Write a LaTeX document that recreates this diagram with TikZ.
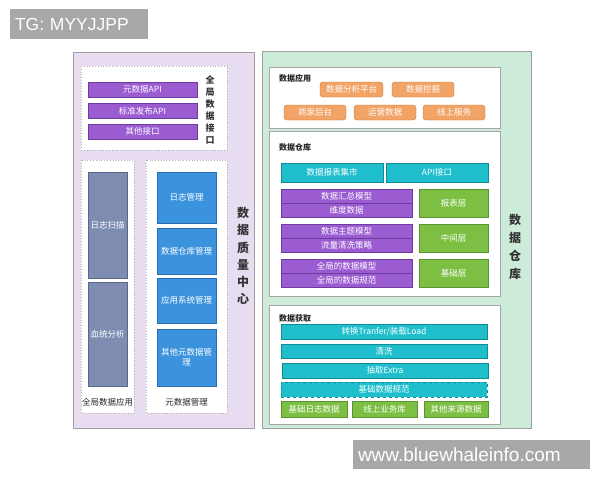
\documentclass[tikz,border=0pt]{standalone}
\usepackage{fontspec}
\setmainfont{Noto Sans CJK SC}
\newfontfamily\wmfont{Liberation Sans}
\usepackage{tikz}
\usepackage{xcolor}
\definecolor{panelpurple}{HTML}{E8DCF0}
\definecolor{panelgreen}{HTML}{CCEBD8}
\definecolor{barpurple}{HTML}{9B5CD2}
\definecolor{barpurpleline}{HTML}{6C3D9E}
\definecolor{bargray}{HTML}{7E8CB2}
\definecolor{bargrayline}{HTML}{5B6787}
\definecolor{barblue}{HTML}{3C93DD}
\definecolor{barblueline}{HTML}{296EAE}
\definecolor{btnorange}{HTML}{F2A366}
\definecolor{btnorangeline}{HTML}{C6793A}
\definecolor{barcyan}{HTML}{1EBECD}
\definecolor{barcyanline}{HTML}{138B97}
\definecolor{boxgreen}{HTML}{7CBF42}
\definecolor{boxgreenline}{HTML}{5A9430}
\definecolor{wmgray}{HTML}{A8A8A8}
\begin{document}
\begin{tikzpicture}[x=1pt,y=-1pt,
	box/.style={draw,inner sep=0pt,text=white,font=\fontsize{8.5}{10}\selectfont},
	pbar/.style={box,fill=barpurple,draw=barpurpleline},
	gbar/.style={box,fill=bargray,draw=bargrayline},
	bbox/.style={box,fill=barblue,draw=barblueline},
	obtn/.style={box,fill=btnorange,draw=btnorangeline,rounded corners=3pt},
	cbar/.style={box,fill=barcyan,draw=barcyanline},
	gbox/.style={box,fill=boxgreen,draw=boxgreenline},
	vtext/.style={align=center,text=black!80,font=\fontsize{9}{12}\selectfont\bfseries},
	bigvtext/.style={align=center,text=black!80,font=\fontsize{12}{17.3}\selectfont\bfseries},
	title/.style={anchor=west,inner sep=0pt,text=black!85,font=\fontsize{8}{10}\selectfont\bfseries},
	caption/.style={inner sep=0pt,text=black!85,font=\fontsize{8.5}{10}\selectfont},
	wm/.style={fill=wmgray,inner sep=0pt,text=white,align=left,font=\wmfont}]
	\useasboundingbox (0,0) rectangle (600,480);
	\fill[white] (0,0) rectangle (600,480);
	\draw[fill=panelpurple,draw=gray!75] (73,52) rectangle (254,428);
	\draw[fill=white,draw=gray!60,dotted,thick] (81,66) rectangle (227,150);
	\draw[fill=white,draw=gray!60,dotted,thick] (81,160) rectangle (134,413);
	\draw[fill=white,draw=gray!60,dotted,thick] (146,160) rectangle (227,413);
	\foreach \y/\t [count=\i] in {89.5/元数据API,111/标准发布API,131.5/其他接口}
		\node[pbar,minimum width=109,minimum height=15] (api\i) at (142.5,\y) {\t};
	\node[vtext] (jiekou) at (210,110) {全\\局\\数\\据\\接\\口};
	\node[gbar,minimum width=39,minimum height=106] (scan) at (107.5,225) {日志扫描};
	\node[gbar,minimum width=39,minimum height=104] (lineage) at (107.5,334) {血统分析};
	\node[bbox,minimum width=59,minimum height=51] (logmgr) at (186.5,197.5) {日志管理};
	\node[bbox,minimum width=59,minimum height=46] (dwmgr) at (186.5,251) {数据仓库管理};
	\node[bbox,minimum width=59,minimum height=45] (appmgr) at (186.5,300.5) {应用系统管理};
	\node[bbox,minimum width=59,minimum height=57,align=center] (metamgr) at (186.5,357.5) {其他元数据管\\理};
	\node[caption] (globalapp) at (107.5,402) {全局数据应用};
	\node[caption] (metadata) at (186.5,402) {元数据管理};
	\node[bigvtext] (quality) at (243,256) {数\\据\\质\\量\\中\\心};
	\draw[fill=panelgreen,draw=gray!75] (262,51) rectangle (531,428);
	\draw[fill=white,draw=gray!70] (269,67) rectangle (500,128);
	\draw[fill=white,draw=gray!70] (269,131) rectangle (500,296);
	\draw[fill=white,draw=gray!70] (269,305) rectangle (500,424);
	\node[title] (usage) at (279,78) {数据应用};
	\node[obtn,minimum width=63,minimum height=15] (analysis) at (351.5,89.5) {数据分析平台};
	\node[obtn,minimum width=62,minimum height=15] (mining) at (423,89.5) {数据挖掘};
	\node[obtn,minimum width=62,minimum height=15] (merchant) at (315,112.5) {商家后台};
	\node[obtn,minimum width=62,minimum height=15] (operation) at (385,112.5) {运营数据};
	\node[obtn,minimum width=62,minimum height=15] (online) at (454,112.5) {线上服务};
	\node[title] (warehouse) at (279,147) {数据仓库};
	\node[cbar,minimum width=102,minimum height=19] (mart) at (332,172.5) {数据报表集市};
	\node[cbar,minimum width=102,minimum height=19] (apiport) at (437,172.5) {API接口};
	\foreach \y/\a/\b/\l [count=\i] in {196/数据汇总模型/维度数据/报表层,231/数据主题模型/流量清洗策略/中间层,266/全局的数据模型/全局的数据规范/基础层}{
		\node[pbar,minimum width=131,minimum height=14] (model\i) at (346.5,\y) {\a};
		\node[pbar,minimum width=131,minimum height=14] (rule\i) at (346.5,\y+14) {\b};
		\node[gbox,minimum width=69,minimum height=28] (layer\i) at (453.5,\y+7) {\l};
	}
	\node[bigvtext,font=\fontsize{12}{18}\selectfont\bfseries] (dw) at (515,247) {数\\据\\仓\\库};
	\node[title] (acquire) at (279,318) {数据获取};
	\node[cbar,minimum width=206,minimum height=15] (load) at (384,331.5) {转换Tranfer/装载Load};
	\node[cbar,minimum width=206,minimum height=14] (clean) at (384,351) {清洗};
	\node[cbar,minimum width=206,minimum height=15] (extract) at (385,370.5) {抽取Extra};
	\node[cbar,dashed,minimum width=206,minimum height=15] (spec) at (384,389.5) {基础数据规范};
	\node[gbox,minimum width=66,minimum height=16] (logdata) at (314,409) {基础日志数据};
	\node[gbox,minimum width=65,minimum height=16] (bizdb) at (384.5,409) {线上业务库};
	\node[gbox,minimum width=64,minimum height=16] (otherdata) at (456,409) {其他来源数据};
	\node[wm,minimum width=138,minimum height=30,text width=128,font=\wmfont\fontsize{17.5}{20}\selectfont] (tg) at (79,24) {TG: MYYJJPP};
	\node[wm,minimum width=237,minimum height=29,text width=227,font=\wmfont\fontsize{19}{22}\selectfont] (site) at (471.5,454.5) {www.bluewhaleinfo.com};
\end{tikzpicture}
\end{document}
